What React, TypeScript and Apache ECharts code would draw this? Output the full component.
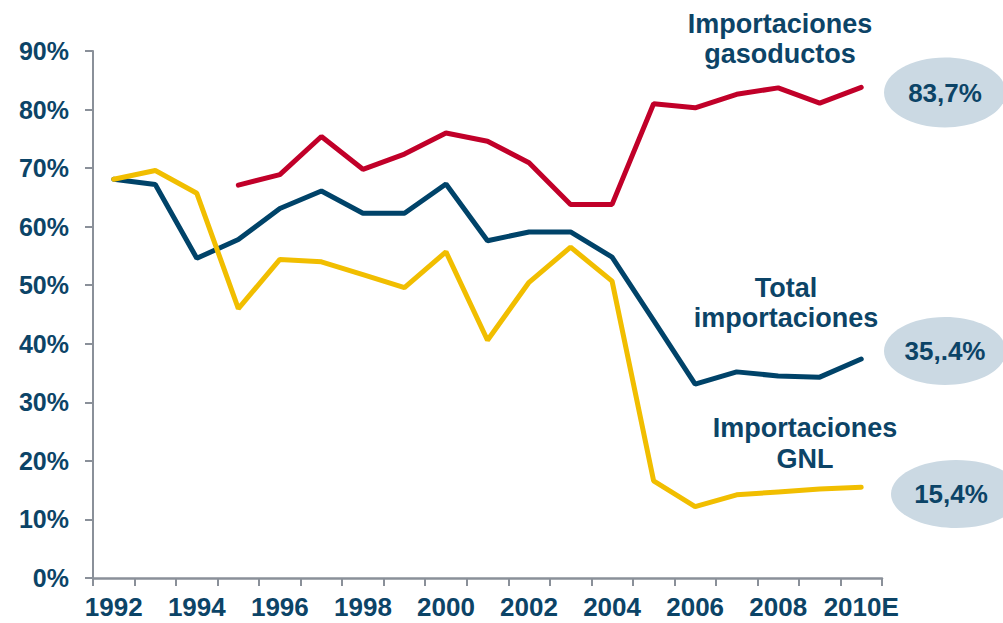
import React, { useEffect, useRef } from "react";
import * as echarts from "echarts";

const years = ["1992","1993","1994","1995","1996","1997","1998","1999","2000","2001","2002","2003","2004","2005","2006","2007","2008","2009","2010E"];
const totalImports = [68.1, 67.2, 54.6, 57.8, 63.1, 66.1, 62.3, 62.3, 67.3, 57.6, 59.1, 59.1, 54.8, 44.0, 33.1, 35.2, 34.5, 34.3, 37.4];
const lngImports = [68.1, 69.6, 65.7, 46.0, 54.4, 54.0, 51.8, 49.6, 55.7, 40.6, 50.5, 56.5, 50.7, 16.6, 12.2, 14.2, 14.7, 15.2, 15.5];
const pipelineImports = [null, null, null, 67.1, 68.9, 75.4, 69.8, 72.4, 76.0, 74.6, 70.9, 63.8, 63.8, 81.0, 80.3, 82.6, 83.7, 81.1, 83.8];
const yTicks = [0, 10, 20, 30, 40, 50, 60, 70, 80, 90];
const seriesNames = ["Importaciones gasoductos", "Total importaciones", "Importaciones GNL"];
const endValues = ["83,7%", "35,.4%", "15,4%"];

const NAVY = "#004369";
const TEXT = "#0C4467";
const RED = "#C10029";
const YELLOW = "#F1BE00";
const AXIS = "#8A9099";
const BUBBLE = "#CBD9E3";
const FONT = "'Liberation Sans', Arial, sans-serif";

export default function App() {
  const ref = useRef<HTMLDivElement>(null);
  useEffect(() => {
    if (!ref.current) return;
    const chart = echarts.init(ref.current, null, { renderer: "svg" });
    const txt = (text: string, x: number, y: number, size = 27) => ({
      type: "text",
      x,
      y,
      style: {
        text,
        fill: TEXT,
        font: `bold ${size}px ${FONT}`,
        textAlign: "center",
        textVerticalAlign: "middle",
      },
    });
    const ell = (cx: number, cy: number, rx: number, ry: number) => ({
      type: "ellipse",
      shape: { cx, cy, rx, ry },
      style: { fill: BUBBLE },
    });
    chart.setOption({
      animation: false,
      grid: { left: 93, right: 121, top: 51, bottom: 45, containLabel: false },
      xAxis: {
        type: "category",
        data: years,
        boundaryGap: true,
        axisLine: { lineStyle: { color: AXIS, width: 2.5 } },
        axisTick: { show: true, interval: 0, length: 8, lineStyle: { color: AXIS, width: 2 } },
        axisLabel: {
          interval: 1,
          margin: 16,
          color: TEXT,
          fontFamily: FONT,
          fontWeight: "bold",
          fontSize: 26,
        },
      },
      yAxis: {
        type: "value",
        min: 0,
        max: 90,
        interval: 10,
        splitLine: { show: false },
        axisLine: { show: true, lineStyle: { color: AXIS, width: 2 } },
        axisTick: { show: true, length: 8, lineStyle: { color: AXIS, width: 2 } },
        axisLabel: {
          formatter: (v: number) => (yTicks.includes(v) ? `${v}%` : ""),
          margin: 24,
          color: TEXT,
          fontFamily: FONT,
          fontWeight: "bold",
          fontSize: 25,
        },
      },
      series: [
        {
          name: seriesNames[0],
          type: "line",
          data: pipelineImports,
          symbol: "none",
          lineStyle: { color: RED, width: 5, cap: "round" },
          itemStyle: { color: RED },
        },
        {
          name: seriesNames[1],
          type: "line",
          data: totalImports,
          symbol: "none",
          lineStyle: { color: NAVY, width: 5, cap: "round" },
          itemStyle: { color: NAVY },
        },
        {
          name: seriesNames[2],
          type: "line",
          data: lngImports,
          symbol: "none",
          lineStyle: { color: YELLOW, width: 5, cap: "round" },
          itemStyle: { color: YELLOW },
        },
      ],
      graphic: [
        ell(945, 92.5, 61, 35),
        ell(945, 351, 61, 34),
        ell(956, 494, 65, 34),
        txt(endValues[0], 945, 93, 26),
        txt(endValues[1], 945, 351, 26),
        txt(endValues[2], 951, 494, 26),
        txt("Importaciones", 780, 23.5),
        txt("gasoductos", 780, 53.5),
        txt("Total", 786, 288),
        txt("importaciones", 786, 318),
        txt("Importaciones", 805, 428),
        txt("GNL", 805, 459),
      ],
    });
    return () => chart.dispose();
  }, []);
  return <div ref={ref} style={{ width: 1003, height: 623, position: "absolute", left: 0, top: 0 }} />;
}
